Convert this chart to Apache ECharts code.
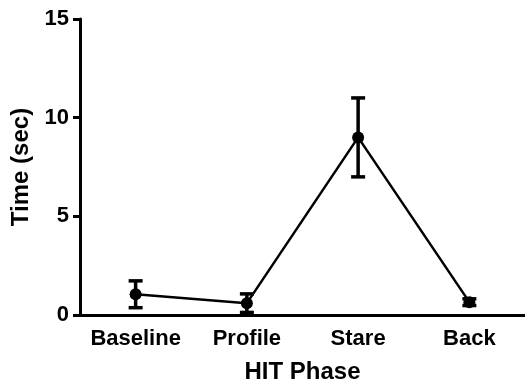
<!DOCTYPE html>
<html>
<head>
<meta charset="utf-8">
<script src="https://cdn.jsdelivr.net/npm/echarts@6/dist/echarts.min.js"></script>
<style>
  html, body { margin: 0; padding: 0; background: #fff; }
  #chart { width: 525px; height: 392px; }
</style>
</head>
<body>
<div id="chart"></div>
<script>
// HIT phases and mean response time (sec) with error (± sec)
const phases = ['Baseline', 'Profile', 'Stare', 'Back'];
const meanTime = [1.05, 0.6, 9.0, 0.65];
const errTime = [0.68, 0.47, 2.0, 0.17];
const yTicks = [0, 5, 10, 15];

const errData = phases.map((p, i) => [i, meanTime[i] - errTime[i], meanTime[i] + errTime[i]]);

const chart = echarts.init(document.getElementById('chart'));
const font = 'Liberation Sans, Arial, sans-serif';

chart.setOption({
  animation: false,
  backgroundColor: '#fff',
  grid: { left: 80, right: -2, top: 19, bottom: 77 },
  xAxis: {
    type: 'category',
    data: phases,
    boundaryGap: true,
    name: 'HIT Phase',
    nameLocation: 'middle',
    nameGap: 45,
    nameTextStyle: { fontFamily: font, fontWeight: 'bold', fontSize: 24, color: '#000' },
    axisLine: { lineStyle: { color: '#000', width: 3 } },
    axisTick: { alignWithLabel: true, interval: 0, length: 7, lineStyle: { color: '#000', width: 3 } },
    axisLabel: { interval: 0, hideOverlap: false, margin: 13, fontFamily: font, fontWeight: 'bold', fontSize: 22, color: '#000' },
    splitLine: { show: false }
  },
  yAxis: {
    type: 'value',
    min: yTicks[0],
    max: yTicks[yTicks.length - 1],
    interval: 5,
    name: 'Time (sec)',
    nameLocation: 'middle',
    nameGap: 43,
    nameRotate: 90,
    nameTextStyle: { fontFamily: font, fontWeight: 'bold', fontSize: 24, color: '#000' },
    axisLine: { show: true, lineStyle: { color: '#000', width: 3 } },
    axisTick: { show: true, length: 7, lineStyle: { color: '#000', width: 3 } },
    axisLabel: { margin: 11, fontFamily: font, fontWeight: 'bold', fontSize: 22, color: '#000' },
    splitLine: { show: false }
  },
  series: [
    {
      type: 'custom',
      data: errData,
      z: 3,
      renderItem: function (params, api) {
        const x = api.value(0);
        const lo = api.coord([x, api.value(1)]);
        const hi = api.coord([x, api.value(2)]);
        const half = 7;
        const style = { stroke: '#000', lineWidth: 3.5 };
        return {
          type: 'group',
          children: [
            { type: 'line', shape: { x1: lo[0], y1: lo[1], x2: hi[0], y2: hi[1] }, style: style },
            { type: 'line', shape: { x1: hi[0] - half, y1: hi[1], x2: hi[0] + half, y2: hi[1] }, style: style },
            { type: 'line', shape: { x1: lo[0] - half, y1: lo[1], x2: lo[0] + half, y2: lo[1] }, style: style }
          ]
        };
      }
    },
    {
      type: 'line',
      data: meanTime,
      z: 4,
      symbol: 'circle',
      symbolSize: 12,
      lineStyle: { color: '#000', width: 2.5 },
      itemStyle: { color: '#000' }
    }
  ]
});
</script>
</body>
</html>
